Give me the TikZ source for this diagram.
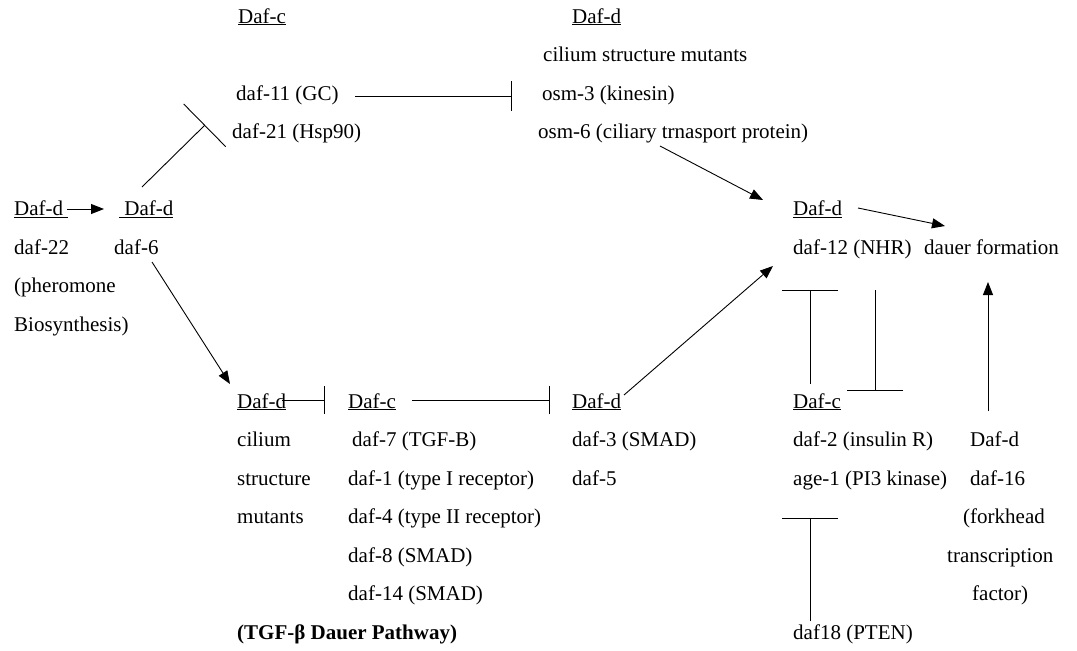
\documentclass[tikz,border=0pt]{standalone}
\usepackage{fontspec}
\setmainfont{Liberation Serif}
\usetikzlibrary{arrows.meta}
\begin{document}
\begin{tikzpicture}[x=1pt,y=-1pt,
  lbl/.style={anchor=base west,inner sep=0pt,font=\fontsize{21}{25}\selectfont},
  conn/.style={line width=0.9pt},
  arr/.style={conn,-{Triangle[length=13pt,width=10pt]}},
  inh/.style={conn,-{Bar[width=#1,line width=0.9pt]}},
  inh/.default=28pt]
\useasboundingbox (0,0) rectangle (1077,651);
% top block
\node[lbl] (tDafc) at (238,23) {\underline{Daf-c}};
\node[lbl] (tDafd) at (572,23) {\underline{Daf-d}};
\node[lbl] (cil1) at (543,61.5) {cilium structure mutants};
\node[lbl] (daf11) at (236,100) {daf-11 (GC)};
\node[lbl] (osm3) at (542,100) {osm-3 (kinesin)};
\node[lbl] (daf21) at (232,138.5) {daf-21 (Hsp90)};
\node[lbl] (osm6) at (538,138.5) {osm-6 (ciliary trnasport protein)};
% left block
\node[lbl] (lDafd) at (14,215.5) {\underline{Daf-d\ }};
\node[lbl] (daf22) at (14,254) {daf-22};
\node[lbl] (pher) at (14,292.5) {(pheromone};
\node[lbl] (bio) at (14,331) {Biosynthesis)};
\node[lbl] (mDafd) at (119,215.5) {\underline{\ Daf-d}};
\node[lbl] (daf6) at (114,254) {daf-6};
% right block
\node[lbl] (rDafd) at (793,215.5) {\underline{Daf-d}};
\node[lbl] (daf12) at (793,254) {daf-12 (NHR)};
\node[lbl] (dauer) at (924,254) {dauer formation};
% bottom block
\node[lbl] (bDafd) at (237,408) {\underline{Daf-d}};
\node[lbl] (cil2) at (237,446.5) {cilium};
\node[lbl] (str2) at (237,485) {structure};
\node[lbl] (mut2) at (237,523.5) {mutants};
\node[lbl] (bDafc) at (348,408) {\underline{Daf-c}};
\node[lbl] (daf7) at (352,446.5) {daf-7 (TGF-B)};
\node[lbl] (daf1) at (348,485) {daf-1 (type I receptor)};
\node[lbl] (daf4) at (348,523.5) {daf-4 (type II receptor)};
\node[lbl] (daf8) at (348,562) {daf-8 (SMAD)};
\node[lbl] (daf14) at (348,600.5) {daf-14 (SMAD)};
\node[lbl,font=\fontsize{21}{25}\selectfont\bfseries] (tgf) at (237,639) {(TGF-β Dauer Pathway)};
\node[lbl] (sDafd) at (572,408) {\underline{Daf-d}};
\node[lbl] (daf3) at (572,446.5) {daf-3 (SMAD)};
\node[lbl] (daf5) at (572,485) {daf-5};
\node[lbl] (rDafc) at (793,408) {\underline{Daf-c}};
\node[lbl] (daf2) at (793,446.5) {daf-2 (insulin R)};
\node[lbl] (age1) at (793,485) {age-1 (PI3 kinase)};
\node[lbl] (daf18) at (793,639) {daf18 (PTEN)};
\node[lbl] (fDafd) at (970,446.5) {Daf-d};
\node[lbl] (daf16) at (970,485) {daf-16};
\node[lbl] (fork) at (963,523.5) {(forkhead};
\node[lbl] (trans) at (947,562) {transcription};
\node[lbl] (fact) at (972,600.5) {factor)};
% connector end points
\coordinate (a1s) at (67,209);    \coordinate (a1e) at (104,209);
\coordinate (t1s) at (142,187);   \coordinate (t1e) at (205,125);
\coordinate (t2s) at (355,96);    \coordinate (t2e) at (512,96);
\coordinate (a2s) at (660,146);   \coordinate (a2e) at (763,200);
\coordinate (a3s) at (858,208);   \coordinate (a3e) at (945,226);
\coordinate (a4s) at (152,262);   \coordinate (a4e) at (230,384);
\coordinate (t3s) at (282,400);   \coordinate (t3e) at (325,400);
\coordinate (t4s) at (412,400);   \coordinate (t4e) at (550,400);
\coordinate (a5s) at (624,395);   \coordinate (a5e) at (773,266);
\coordinate (t5s) at (810,384);   \coordinate (t5e) at (810,290);
\coordinate (t6s) at (875,290);   \coordinate (t6e) at (875,391);
\coordinate (a6s) at (988,411);   \coordinate (a6e) at (988,282);
\coordinate (t7s) at (810,621);   \coordinate (t7e) at (810,518);
% connectors
\draw[arr] (a1s) -- (a1e);
\draw[inh=60pt] (t1s) -- (t1e);
\draw[inh=30pt] (t2s) -- (t2e);
\draw[arr] (a2s) -- (a2e);
\draw[arr] (a3s) -- (a3e);
\draw[arr] (a4s) -- (a4e);
\draw[inh] (t3s) -- (t3e);
\draw[inh] (t4s) -- (t4e);
\draw[arr] (a5s) -- (a5e);
\draw[inh=56pt] (t5s) -- (t5e);
\draw[inh=56pt] (t6s) -- (t6e);
\draw[arr] (a6s) -- (a6e);
\draw[inh=56pt] (t7s) -- (t7e);
\end{tikzpicture}
\end{document}
